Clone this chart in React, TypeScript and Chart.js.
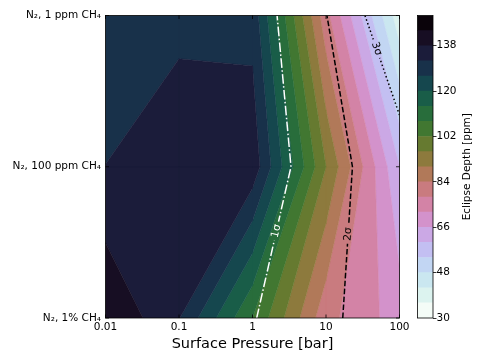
import React, { useEffect, useRef } from 'react';
import { Chart, registerables } from 'chart.js';
Chart.register(...registerables);

// ---- data ----
const PRESSURES = [0.01, 0.1, 1, 10, 100]; // bar
const ATMOSPHERES = ['N₂, 1% CH₄', 'N₂, 100 ppm CH₄', 'N₂, 1 ppm CH₄']; // y = 0,1,2
const DEPTH_1PCT_CH4 = [143.9, 132.3, 108, 80, 69];
const DEPTH_100PPM_CH4 = [132.05, 137, 136, 96, 60];
const DEPTH_1PPM_CH4 = [129, 130, 130, 80, 38];
const LEVELS = [30, 36, 42, 48, 54, 60, 66, 72, 78, 84, 90, 96, 102, 108, 114, 120, 126, 132, 138, 144, 150];
const CBAR_TICKS = [30, 48, 66, 84, 102, 120, 138];
const X_TICKS = [0.01, 0.1, 1, 10, 100];
const SIGMA_1 = [{ x: 1.14, y: 0 }, { x: 3.34, y: 1 }, { x: 2.16, y: 2 }];
const SIGMA_2 = [{ x: 16.9, y: 0 }, { x: 22.9, y: 1 }, { x: 10.3, y: 2 }];
const SIGMA_3 = [{ x: 33.9, y: 2 }, { x: 100, y: 1.342 }];
const SIGMA_LABELS = ['1σ', '2σ', '3σ'];
const SIGMA_LABEL_ROWS = [0.575, 0.555, 1.78];

const FONT = '"DejaVu Sans", sans-serif';

// matplotlib cubehelix (gamma=1, s=0.5, r=-1.5, h=1), reversed
function cubehelixR(t: number): string {
  const idx = Math.min(255, Math.floor(t * 256));
  const x = 1 - idx / 255;
  const a = (x * (1 - x)) / 2;
  const phi = 2 * Math.PI * (0.5 / 3 - 1.5 * x);
  const c = Math.cos(phi), s = Math.sin(phi);
  const cl = (v: number) => Math.round(Math.max(0, Math.min(1, v)) * 255);
  const r = x + a * (-0.14861 * c + 1.78277 * s);
  const g = x + a * (-0.29227 * c - 0.90649 * s);
  const b = x + a * (1.97294 * c);
  return `rgb(${cl(r)},${cl(g)},${cl(b)})`;
}
const NB = LEVELS.length - 1;
const bandColor = (i: number) => cubehelixR((i + 0.5) / NB);

const contourPlugin = {
  id: 'contourFill',
  beforeDatasetsDraw(chart: any) {
    const { ctx, chartArea, scales } = chart;
    const xs = scales.x, ys = scales.y;
    const grid = [DEPTH_1PCT_CH4, DEPTH_100PPM_CH4, DEPTH_1PPM_CH4];
    ctx.save();
    ctx.beginPath();
    ctx.rect(chartArea.left, chartArea.top, chartArea.right - chartArea.left, chartArea.bottom - chartArea.top);
    ctx.clip();
    for (let b = 0; b < NB; b++) {
      const lo = LEVELS[b], hi = LEVELS[b + 1];
      ctx.beginPath();
      let any = false;
      for (let r = 0; r < grid.length - 1; r++) {
        for (let c = 0; c < PRESSURES.length - 1; c++) {
          const corners = [[c, r], [c + 1, r], [c + 1, r + 1], [c, r + 1]].map(([ci, ri]) => ({
            px: xs.getPixelForValue(PRESSURES[ci]),
            py: ys.getPixelForValue(ri),
            v: grid[ri][ci],
          }));
          const pts: { px: number; py: number }[] = [];
          for (let k = 0; k < 4; k++) {
            const A = corners[k], B = corners[(k + 1) % 4];
            if (A.v >= lo && A.v <= hi) pts.push(A);
            const ls = A.v < B.v ? [lo, hi] : [hi, lo];
            for (const L of ls) {
              if ((A.v < L && B.v > L) || (A.v > L && B.v < L)) {
                const t = (L - A.v) / (B.v - A.v);
                pts.push({ px: A.px + t * (B.px - A.px), py: A.py + t * (B.py - A.py) });
              }
            }
          }
          if (pts.length >= 3) {
            any = true;
            ctx.moveTo(pts[0].px, pts[0].py);
            for (let k = 1; k < pts.length; k++) ctx.lineTo(pts[k].px, pts[k].py);
            ctx.closePath();
          }
        }
      }
      if (any) {
        const col = bandColor(b);
        ctx.fillStyle = col;
        ctx.strokeStyle = col;
        ctx.lineWidth = 0.5;
        ctx.fill('nonzero');
        ctx.stroke();
      }
    }
    ctx.restore();
  },
};

function labelInfo(chart: any, i: number) {
  const data = chart.data.datasets[i].data as { x: number; y: number }[];
  const row = SIGMA_LABEL_ROWS[i];
  const xs = chart.scales.x, ys = chart.scales.y;
  for (let k = 0; k < data.length - 1; k++) {
    const a = data[k], b = data[k + 1];
    if (row >= Math.min(a.y, b.y) && row <= Math.max(a.y, b.y)) {
      const ax = xs.getPixelForValue(a.x), ay = ys.getPixelForValue(a.y);
      const bx = xs.getPixelForValue(b.x), by = ys.getPixelForValue(b.y);
      const t = (row - a.y) / (b.y - a.y);
      let ang = Math.atan2(by - ay, bx - ax);
      if (ang > Math.PI / 2) ang -= Math.PI;
      if (ang <= -Math.PI / 2) ang += Math.PI;
      return { cx: ax + t * (bx - ax), cy: ay + t * (by - ay), ang };
    }
  }
  return null;
}

const sigmaPlugin = {
  id: 'sigmaLabels',
  beforeDatasetDraw(chart: any, args: any) {
    const ctx = chart.ctx;
    ctx.save();
    const info = labelInfo(chart, args.index);
    if (!info) return;
    ctx.font = `10.5px ${FONT}`;
    const w = ctx.measureText(SIGMA_LABELS[args.index]).width;
    const hw = w / 2 + 3, hh = 7;
    const co = Math.cos(info.ang), si = Math.sin(info.ang);
    const pt = (u: number, v: number) => [info.cx + u * co - v * si, info.cy + u * si + v * co];
    ctx.beginPath();
    ctx.rect(0, 0, chart.width, chart.height);
    const p = [pt(-hw, -hh), pt(hw, -hh), pt(hw, hh), pt(-hw, hh)];
    ctx.moveTo(p[0][0], p[0][1]);
    for (let k = 1; k < 4; k++) ctx.lineTo(p[k][0], p[k][1]);
    ctx.closePath();
    ctx.clip('evenodd');
  },
  afterDatasetDraw(chart: any) {
    chart.ctx.restore();
  },
  afterDatasetsDraw(chart: any) {
    const ctx = chart.ctx;
    const { chartArea, scales } = chart;
    chart.data.datasets.forEach((ds: any, i: number) => {
      const info = labelInfo(chart, i);
      if (!info) return;
      ctx.save();
      ctx.translate(info.cx, info.cy);
      ctx.rotate(info.ang);
      ctx.font = `10.5px ${FONT}`;
      ctx.fillStyle = ds.borderColor;
      ctx.textAlign = 'center';
      ctx.textBaseline = 'middle';
      ctx.fillText(SIGMA_LABELS[i], 0, 0);
      ctx.restore();
    });
    ctx.save();
    ctx.strokeStyle = '#000';
    ctx.lineWidth = 0.8;
    ctx.strokeRect(chartArea.left, chartArea.top, chartArea.right - chartArea.left, chartArea.bottom - chartArea.top);
    const tl = 3.5;
    ctx.beginPath();
    for (const v of X_TICKS) {
      const x = scales.x.getPixelForValue(v);
      ctx.moveTo(x, chartArea.bottom);
      ctx.lineTo(x, chartArea.bottom - tl);
      ctx.moveTo(x, chartArea.top);
      ctx.lineTo(x, chartArea.top + tl);
    }
    ATMOSPHERES.forEach((_, i) => {
      const y = scales.y.getPixelForValue(i);
      ctx.moveTo(chartArea.left, y);
      ctx.lineTo(chartArea.left + tl, y);
      ctx.moveTo(chartArea.right, y);
      ctx.lineTo(chartArea.right - tl, y);
    });
    ctx.stroke();
    ctx.fillStyle = '#000';
    ctx.font = `14.5px ${FONT}`;
    ctx.textAlign = 'center';
    ctx.textBaseline = 'alphabetic';
    ctx.fillText('Surface Pressure [bar]', (chartArea.left + chartArea.right) / 2, 347.5);
    ctx.restore();
  },
};

const cbarPlugin = {
  id: 'cbarFrame',
  afterDraw(chart: any) {
    const { ctx, chartArea } = chart;
    ctx.save();
    ctx.strokeStyle = '#000';
    ctx.lineWidth = 0.8;
    ctx.strokeRect(chartArea.left, chartArea.top, chartArea.right - chartArea.left, chartArea.bottom - chartArea.top);
    ctx.translate(69.5, (chartArea.top + chartArea.bottom) / 2);
    ctx.rotate(-Math.PI / 2);
    ctx.fillStyle = '#000';
    ctx.font = `10.5px ${FONT}`;
    ctx.textAlign = 'center';
    ctx.textBaseline = 'alphabetic';
    ctx.fillText('Eclipse Depth [ppm]', 0, 0);
    ctx.restore();
  },
};

const tickFont = { family: FONT, size: 10.5 };

export default function App() {
  const mainRef = useRef<HTMLCanvasElement>(null);
  const cbarRef = useRef<HTMLCanvasElement>(null);
  useEffect(() => {
    const lineDs = (data: any, color: string, dash: number[]) => ({
      data,
      showLine: true,
      borderColor: color,
      borderWidth: 1.5,
      borderDash: dash,
      pointRadius: 0,
      fill: false,
    });
    const main = new Chart(mainRef.current as HTMLCanvasElement, {
      type: 'scatter',
      data: {
        datasets: [
          lineDs(SIGMA_1, '#ffffff', [9.6, 2.4, 1.5, 2.4]),
          lineDs(SIGMA_2, '#000000', [5.55, 2.4]),
          lineDs(SIGMA_3, '#000000', [1.5, 2.5]),
        ],
      },
      options: {
        animation: false,
        responsive: false,
        events: [],
        layout: { padding: { left: 0, top: 15.5, right: 84.5, bottom: 0 } },
        plugins: { legend: { display: false }, tooltip: { enabled: false } },
        scales: {
          x: {
            type: 'logarithmic',
            min: 0.01,
            max: 100,
            afterBuildTicks: (s: any) => { s.ticks = X_TICKS.map((v) => ({ value: v })); },
            afterFit: (s: any) => { s.height = 45; },
            grid: { display: false, drawTicks: false },
            border: { display: false },
            ticks: { callback: (v: any) => String(v), color: '#000', font: tickFont, padding: 3, maxRotation: 0, autoSkip: false },
          },
          y: {
            type: 'linear',
            min: 0,
            max: 2,
            afterBuildTicks: (s: any) => { s.ticks = ATMOSPHERES.map((_, i) => ({ value: i })); },
            afterFit: (s: any) => { s.width = 105.5; },
            grid: { display: false, drawTicks: false },
            border: { display: false },
            ticks: { callback: (v: any) => ATMOSPHERES[v], color: '#000', font: tickFont, padding: 4.5, autoSkip: false },
          },
        },
      } as any,
      plugins: [contourPlugin, sigmaPlugin],
    });
    const cbar = new Chart(cbarRef.current as HTMLCanvasElement, {
      type: 'bar',
      data: {
        labels: [''],
        datasets: LEVELS.slice(0, -1).map((lo, i) => ({
          data: [[lo, LEVELS[i + 1]]],
          backgroundColor: bandColor(i),
          borderWidth: 0,
          grouped: false,
          barPercentage: 1,
          categoryPercentage: 1,
        })),
      } as any,
      options: {
        animation: false,
        responsive: false,
        events: [],
        layout: { padding: { left: 17.5, top: 15.5, right: 0, bottom: 45 } },
        plugins: { legend: { display: false }, tooltip: { enabled: false } },
        scales: {
          x: { display: false },
          y: {
            position: 'right',
            min: 30,
            max: 150,
            afterBuildTicks: (s: any) => { s.ticks = CBAR_TICKS.map((v) => ({ value: v })); },
            afterFit: (s: any) => { s.width = 51; },
            grid: { drawOnChartArea: false, drawTicks: true, tickLength: 3.5, color: '#000', lineWidth: 0.8 },
            border: { display: false },
            ticks: { color: '#000', font: tickFont, padding: 0, autoSkip: false },
          },
        },
      } as any,
      plugins: [cbarPlugin],
    });
    return () => {
      main.destroy();
      cbar.destroy();
    };
  }, []);
  return (
    <div style={{ position: 'fixed', left: 0, top: 0, width: 484, height: 363, background: '#fff' }}>
      <canvas ref={mainRef} width={484} height={363} style={{ position: 'absolute', left: 0, top: 0 }} />
      <canvas ref={cbarRef} width={84} height={363} style={{ position: 'absolute', left: 400, top: 0 }} />
    </div>
  );
}
